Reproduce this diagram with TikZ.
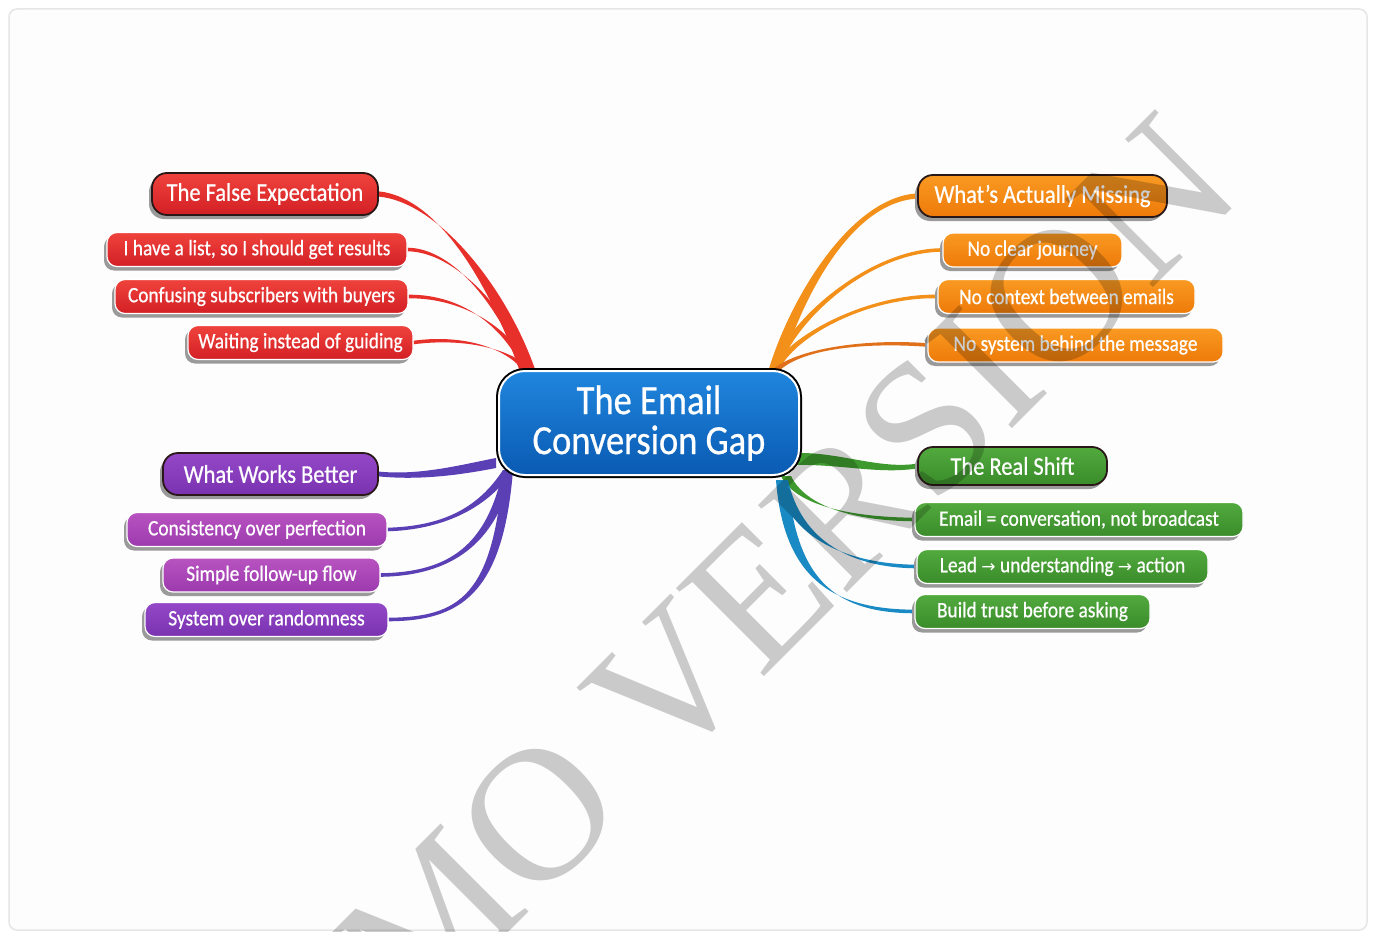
\documentclass[tikz,border=0pt]{standalone}
\usepackage{fontspec}
\setmainfont{Carlito}
\newfontfamily\leaffont{Carlito}[FakeStretch=0.88,FakeBold=0.6]
\newfontfamily\symfont{DejaVu Sans}
\newfontfamily\wmfont{Liberation Serif}
\usetikzlibrary{calc,shadows}
\pgfdeclarelayer{bg}\pgfdeclarelayer{conn}\pgfdeclarelayer{fg}
\pgfsetlayers{bg,conn,main,fg}
\definecolor{redT}{HTML}{F0433C}\definecolor{redB}{HTML}{D21F25}\definecolor{redC}{HTML}{E8302A}
\definecolor{orT}{HTML}{F99A22}\definecolor{orB}{HTML}{EE7A0A}\definecolor{orC}{HTML}{F39019}\definecolor{orD}{HTML}{E0701A}
\definecolor{grT}{HTML}{52AA3E}\definecolor{grB}{HTML}{3A8C2A}\definecolor{grC}{HTML}{3E9A2E}\definecolor{blC}{HTML}{1A8AC4}
\definecolor{puT}{HTML}{9448C8}\definecolor{puB}{HTML}{7A32B0}\definecolor{mgT}{HTML}{B853C0}\definecolor{mgB}{HTML}{9C3AAE}
\definecolor{puC}{HTML}{5A3FB5}
\definecolor{blT}{HTML}{2086DE}\definecolor{blB}{HTML}{0A5AB2}
\definecolor{headline}{HTML}{2A1818}\definecolor{shadowgrey}{HTML}{9A9A9A}\definecolor{framegrey}{HTML}{E6E6E6}
\newcommand{\tapered}[7]{\fill[#1] ($#2+#3$) .. controls ($#4+#3$) and ($#5+#7$) .. ($#6+#7$) -- ($#6-#7$) .. controls ($#5-#7$) and ($#4-#3$) .. ($#2-#3$) -- cycle;}
\newcommand{\arr}{{\symfont\fontsize{17}{20}\selectfont →}}
\tikzset{
  box/.style={rounded corners=10pt, draw=white, line width=1.2pt, text=white, align=center, inner sep=0pt, minimum height=34pt,
    drop shadow={shadow xshift=-3pt, shadow yshift=-4pt, fill=shadowgrey, opacity=1}},
  leaf/.style={box, font=\leaffont\fontsize{22}{24}\selectfont},
  head/.style={box, rounded corners=15pt, draw=headline, line width=1.8pt, minimum height=42pt, font=\leaffont\fontsize{25.5}{28}\selectfont},
  redbox/.style={top color=redT, bottom color=redB},
  orbox/.style={top color=orT, bottom color=orB},
  grbox/.style={top color=grT, bottom color=grB},
  pubox/.style={top color=puT, bottom color=puB},
  mgbox/.style={top color=mgT, bottom color=mgB},
  central/.style={rounded corners=26pt, minimum width=300pt, minimum height=104pt, top color=blT, bottom color=blB,
    draw=white, line width=2pt, preaction={draw=black, line width=6pt}, text=white, align=center, inner sep=0pt,
    font=\leaffont\fontsize{41.5}{40}\selectfont},
}
\begin{document}
\begin{tikzpicture}[x=1pt,y=-1pt]
\useasboundingbox (0,0) rectangle (1375,931);
\begin{pgfonlayer}{bg}
  \fill[white] (0,0) rectangle (1375,931);
  \draw[framegrey, line width=1.5pt, fill={rgb,255:red,253;green,253;blue,253}, rounded corners=8pt] (9,9) rectangle (1367,930);
\end{pgfonlayer}

% central
\node[central] (c) at (649,423) {The Email\\Conversion Gap};

% red group
\node[head, redbox, minimum width=226pt] (r0) at (265,194) {The False Expectation};
\node[leaf, redbox, minimum width=300pt] (r1) at (257,249.5) {I have a list, so I should get results};
\node[leaf, redbox, minimum width=293pt] (r2) at (261.5,296.5) {Confusing subscribers with buyers};
\node[leaf, redbox, minimum width=225pt] (r3) at (300.5,342.5) {Waiting instead of guiding};

% orange group
\node[head, orbox, minimum width=249pt] (o0) at (1042.5,196) {What’s Actually Missing};
\node[leaf, orbox, minimum width=179pt] (o1) at (1032.5,250) {No clear journey};
\node[leaf, orbox, minimum width=257pt] (o2) at (1066.5,296.5) {No context between emails};
\node[leaf, orbox, minimum width=295pt] (o3) at (1075.5,345) {No system behind the message};

% green group
\node[head, grbox, minimum width=189pt, minimum height=38pt] (g0) at (1012.5,466) {The Real Shift};
\node[leaf, grbox, minimum width=328pt] (g1) at (1079,519.5) {Email = conversation, not broadcast};
\node[leaf, grbox, minimum width=291pt] (g2) at (1062.5,566.5) {Lead \arr{} understanding \arr{} action};
\node[leaf, grbox, minimum width=235pt] (g3) at (1032.5,611.5) {Build trust before asking};

% purple group
\node[head, pubox, minimum width=215pt] (p0) at (270.5,474) {What Works Better};
\node[leaf, mgbox, minimum width=260pt] (p1) at (257,529.5) {Consistency over perfection};
\node[leaf, mgbox, minimum width=217pt] (p2) at (271.5,575) {Simple follow-up flow};
\node[leaf, pubox, minimum width=243pt] (p3) at (266.5,619.5) {System over randomness};

% hubs
\coordinate (hubR) at (528,372);
\coordinate (hubO) at (774,372);
\coordinate (hubG) at (796,459);
\coordinate (hubG2) at (786,476);
\coordinate (hubB) at (782,480);
\coordinate (hubP) at (496,463);
\coordinate (hubP2) at (508,470);

\begin{pgfonlayer}{conn}
  \tapered{redC}{(hubR)}{(8,0)}{(500,290)}{(440,200)}{(r0.east)}{(0,2.6)}
  \tapered{redC}{(hubR)}{(4,0)}{(505,310)}{(455,250)}{(r1.east)}{(0,1.8)}
  \tapered{redC}{(hubR)}{(4,0)}{(510,330)}{(465,296)}{(r2.east)}{(0,1.8)}
  \tapered{redC}{(hubR)}{(4,0)}{(515,352)}{(470,335)}{(r3.east)}{(0,1.8)}

  \tapered{orC}{(hubO)}{(6,0)}{(795,300)}{(850,200)}{(o0.west)}{(0,2.6)}
  \tapered{orC}{(hubO)}{(4,0)}{(790,320)}{(870,250)}{(o1.west)}{(0,1.8)}
  \tapered{orC}{(hubO)}{(4,0)}{(790,335)}{(870,295)}{(o2.west)}{(0,1.8)}
  \tapered{orD}{(hubO)}{(4,0)}{(795,350)}{(860,340)}{(o3.west)}{(0,1.8)}

  \tapered{grC}{(hubG)}{(0,6)}{(840,458)}{(880,472)}{(g0.west)}{(0,2.4)}
  \tapered{grC}{(hubG2)}{(5,0)}{(800,505)}{(850,519)}{(g1.west)}{(0,1.8)}
  \tapered{blC}{(hubB)}{(6,0)}{(795,540)}{(850,566)}{(g2.west)}{(0,1.8)}
  \tapered{blC}{(hubB)}{(6,0)}{(790,585)}{(840,611)}{(g3.west)}{(0,1.8)}

  \tapered{puC}{(hubP)}{(0,5)}{(460,470)}{(420,478)}{(p0.east)}{(0,2.4)}
  \tapered{puC}{(hubP2)}{(5,0)}{(482,510)}{(440,528)}{(p1.east)}{(0,1.8)}
  \tapered{puC}{(hubP2)}{(5,0)}{(492,545)}{(450,574)}{(p2.east)}{(0,1.8)}
  \tapered{puC}{(hubP2)}{(5,0)}{(498,595)}{(460,619)}{(p3.east)}{(0,1.8)}
\end{pgfonlayer}

\begin{pgfonlayer}{fg}
  \begin{scope}
    \clip (0,0) rectangle (1375,931);
    \node[rotate=45, text=black, text opacity=0.2, inner sep=0pt, font=\wmfont\fontsize{190}{190}\selectfont] (wm) at (697,657) {DEMO VERSION};
  \end{scope}
\end{pgfonlayer}
\end{tikzpicture}
\end{document}
